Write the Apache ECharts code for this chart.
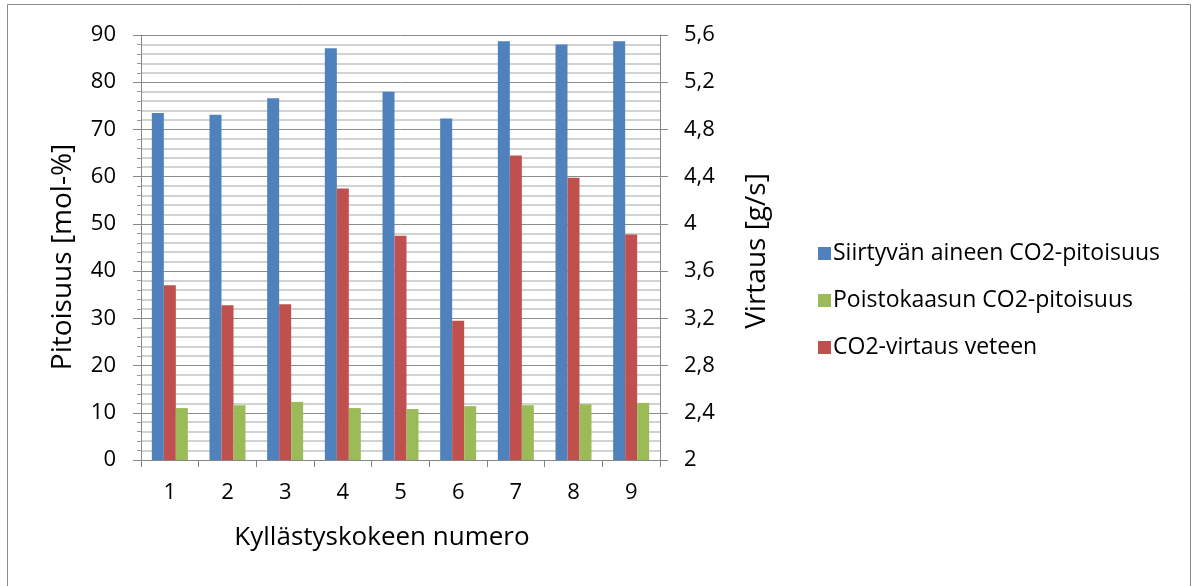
<!DOCTYPE html>
<html>
<head>
<meta charset="utf-8">
<script src="https://cdn.jsdelivr.net/npm/echarts@6/dist/echarts.min.js"></script>
<style>
html,body{margin:0;padding:0;background:#fff;}
#c{width:1198px;height:586px;}
</style>
</head>
<body>
<div id="c"></div>
<script>
const categories = ['1','2','3','4','5','6','7','8','9'];
const siirtyva = [73.5, 73.1, 76.6, 87.2, 78.0, 72.3, 88.7, 88.0, 88.7];
const poistokaasu = [11.0, 11.6, 12.3, 11.0, 10.8, 11.4, 11.6, 11.8, 12.1];
const virtaus = [3.48, 3.31, 3.32, 4.30, 3.90, 3.18, 4.58, 4.39, 3.91];
const seriesNames = ['Siirtyvän aineen CO2-pitoisuus', 'Poistokaasun CO2-pitoisuus', 'CO2-virtaus veteen'];
const leftAxisName = 'Pitoisuus [mol-%]';
const rightAxisName = 'Virtaus [g/s]';
const xAxisName = 'Kyllästyskokeen numero';

const FONT = 'Open Sans';
const chart = echarts.init(document.getElementById('c'), null, {renderer: 'canvas'});
const option = {
  animation: false,
  backgroundColor: '#fff',
  grid: {left: 141, top: 35, right: 538, bottom: 126, containLabel: false},
  legend: {
    orient: 'vertical',
    left: 813,
    top: 237,
    itemWidth: 13,
    itemHeight: 13,
    itemGap: 24,
    icon: 'rect',
    data: [seriesNames[0], seriesNames[1], seriesNames[2]],
    textStyle: {fontFamily: FONT, fontSize: 23, color: '#000', padding: [0, 0, 0, -3]}
  },
  xAxis: {
    type: 'category',
    data: categories,
    axisLine: {lineStyle: {color: '#868686', width: 1}},
    axisTick: {show: true, alignWithLabel: false, length: 7, lineStyle: {color: '#868686'}},
    axisLabel: {fontFamily: FONT, fontSize: 22, color: '#000', margin: 22}
  },
  yAxis: [
    {
      type: 'value', min: 0, max: 90, interval: 10,
      axisLine: {show: true, lineStyle: {color: '#868686'}},
      axisTick: {show: true, length: 8, lineStyle: {color: '#868686'}},
      axisLabel: {fontFamily: FONT, fontSize: 22, color: '#000', margin: 25},
      splitLine: {show: true, lineStyle: {color: '#8c8c8c', width: 1}},
      minorTick: {show: true, splitNumber: 5, length: 4, lineStyle: {color: '#9a9a9a'}},
      minorSplitLine: {show: true, lineStyle: {color: '#c4c4c4', width: 1.5}}
    },
    {
      type: 'value', min: 2, max: 5.6, interval: 0.4, position: 'right',
      axisLine: {show: true, lineStyle: {color: '#868686'}},
      axisTick: {show: true, length: 8, lineStyle: {color: '#868686'}},
      axisLabel: {fontFamily: FONT, fontSize: 22, color: '#000', margin: 24,
        formatter: v => String(Math.round(v * 10) / 10).replace('.', ',')},
      splitLine: {show: false}
    }
  ],
  series: [
    {name: seriesNames[0], type: 'bar', data: siirtyva, yAxisIndex: 0, barWidth: 12, barGap: '0%', itemStyle: {color: '#4F81BD'}},
    {name: seriesNames[2], type: 'bar', data: virtaus, yAxisIndex: 1, barWidth: 12, barGap: '0%', itemStyle: {color: '#C0504D'}},
    {name: seriesNames[1], type: 'bar', data: poistokaasu, yAxisIndex: 0, barWidth: 12, barGap: '0%', itemStyle: {color: '#9BBB59'}}
  ],
  graphic: [
    {type: 'rect', shape: {x: 7.5, y: 4.5, width: 1183, height: 620}, style: {fill: 'none', stroke: '#8a8a8a', lineWidth: 1}, silent: true},
    {type: 'text', x: 63, y: 257, rotation: Math.PI / 2,
      style: {text: leftAxisName, fontFamily: FONT, fontSize: 28, fill: '#000', align: 'center', verticalAlign: 'middle'}},
    {type: 'text', x: 757, y: 251, rotation: Math.PI / 2,
      style: {text: rightAxisName, fontFamily: FONT, fontSize: 28, fill: '#000', align: 'center', verticalAlign: 'middle'}},
    {type: 'text', x: 382, y: 538,
      style: {text: xAxisName, fontFamily: FONT, fontSize: 26, fill: '#000', align: 'center', verticalAlign: 'middle'}}
  ]
};
chart.setOption(option);
</script>
</body>
</html>
